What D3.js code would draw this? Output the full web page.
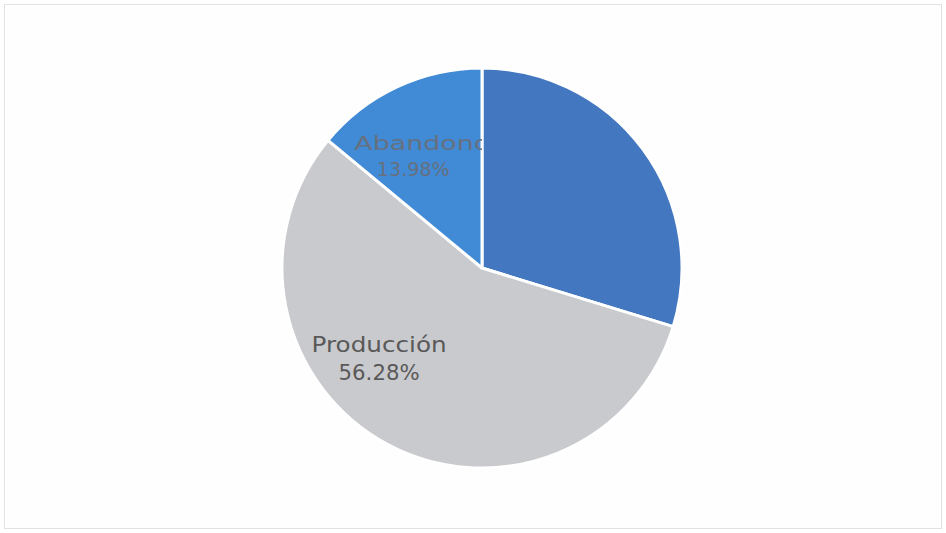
<!DOCTYPE html>
<html><head><meta charset="utf-8">
<script src="https://cdn.jsdelivr.net/npm/d3@7"></script>
<style>html,body{margin:0;padding:0;background:#fff;}svg{display:block;}</style>
</head><body>
<svg id="chart" width="946" height="533"></svg>
<script>
const categories = ["Operación", "Producción", "Abandono"];
const values = [29.74, 56.28, 13.98];
const colors = ["#4377c0", "#c9cacd", "#418ad6"];
const showLabel = [false, true, true];

const W = 946, H = 533;
const cx = 482, cy = 268, R = 200;
const svg = d3.select("#chart");

svg.append("rect").attr("x", 4.5).attr("y", 4.5).attr("width", W - 9).attr("height", H - 9)
  .attr("fill", "#fefefe").attr("stroke", "#e2e2e2").attr("stroke-width", 1);

const pie = d3.pie().sort(null).value(d => d.v);
const arcs = pie(categories.map((c, i) => ({c, v: values[i], i})));
const arc = d3.arc().innerRadius(0).outerRadius(R);

const g = svg.append("g").attr("transform", `translate(${cx},${cy})`);
const defs = svg.append("defs");
arcs.forEach((a, i) => {
  defs.append("clipPath").attr("id", "clip" + i).append("path").attr("d", arc(a));
});

g.selectAll("path.slice").data(arcs).join("path")
  .attr("class", "slice")
  .attr("d", arc)
  .attr("fill", d => colors[d.data.i])
  .attr("stroke", "#ffffff").attr("stroke-width", 3).attr("stroke-linejoin", "round");

// label layout: centroid + shift, and text widths to mimic the wide original face
const labelArc = d3.arc().innerRadius(R * 0.62).outerRadius(R * 0.62);
const labelShift = [[0, 0], [-44, -23], [-16, -4]];
const nameShift = [0, 0, 9];
const fontSizes = [20, 21, 20];
const nameWidth = [0, 135, 136];
const valueWidth = [0, 81, 73];
const lineGap = [0, 26, 24];
const textColors = ["#ffffff", "#595959", "#66707e"];

arcs.forEach((a, i) => {
  if (!showLabel[i]) return;
  const [x, y] = labelArc.centroid(a);
  const lx = x + labelShift[i][0], ly = y + labelShift[i][1];
  const t = g.append("text")
    .attr("clip-path", i === 2 ? "url(#clip2)" : null)
    .attr("text-anchor", "start")
    .attr("font-family", "'DejaVu Sans', sans-serif")
    .attr("font-size", fontSizes[i])
    .attr("fill", textColors[i]);
  t.append("tspan").attr("x", lx + nameShift[i] - nameWidth[i] / 2).attr("y", ly - 2)
    .attr("textLength", nameWidth[i]).attr("lengthAdjust", "spacingAndGlyphs").text(categories[i]);
  t.append("tspan").attr("x", lx - valueWidth[i] / 2).attr("y", ly + lineGap[i])
    .attr("textLength", valueWidth[i]).attr("lengthAdjust", "spacingAndGlyphs").text(values[i].toFixed(2) + "%");
});
</script>
</body></html>
